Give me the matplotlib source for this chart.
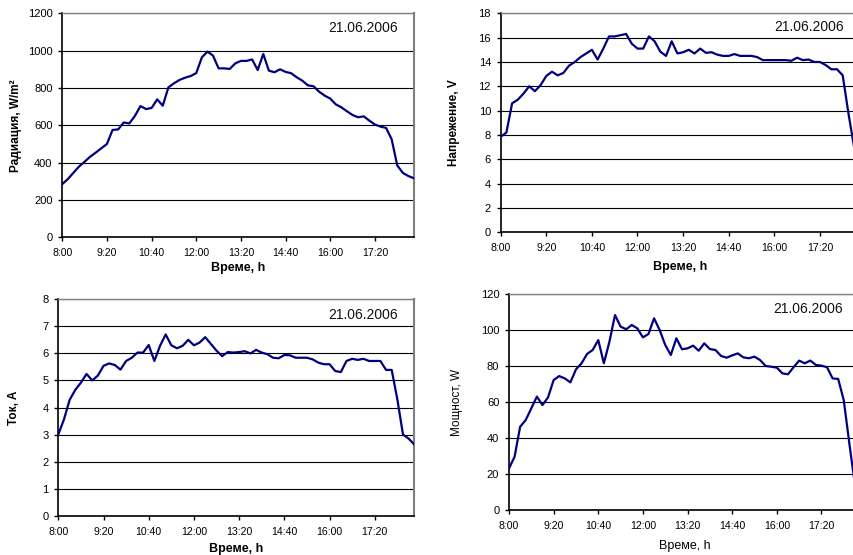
import matplotlib
matplotlib.use('Agg')
import matplotlib.pyplot as plt
import numpy as np

plt.rcParams['font.family'] = ['Liberation Sans', 'DejaVu Sans']

LINE_COLOR = '#000080'
BORDER_GRAY = '#808080'
W, H = 854, 555

# tick labels of the category axis (every 8th reading, 10 min step)
tick_labels = ['8:00', '9:20', '10:40', '12:00', '13:20', '14:40', '16:00', '17:20']
date_label = '21.06.2006'

radiation = [285, 312, 346, 379, 405, 432, 454, 477, 500, 575,
             578, 615, 610, 650, 703, 687, 693, 739, 705, 803,
             825, 843, 855, 864, 880, 964, 995, 973, 905, 905,
             902, 932, 945, 945, 953, 896, 982, 893, 884, 900,
             886, 879, 857, 839, 814, 809, 780, 759, 743, 712,
             696, 675, 655, 643, 648, 625, 604, 593, 586, 525,
             385, 345, 328, 316]

voltage = [7.85, 8.2, 10.6, 10.9, 11.4, 12.0, 11.6, 12.1, 12.85, 13.2,
           12.9, 13.1, 13.7, 14.0, 14.4, 14.7, 15.0, 14.2, 15.1, 16.1,
           16.1, 16.2, 16.3, 15.5, 15.1, 15.1, 16.1, 15.7, 14.85, 14.5,
           15.7, 14.7, 14.8, 15.0, 14.7, 15.1, 14.75, 14.8, 14.6, 14.5,
           14.5, 14.65, 14.5, 14.5, 14.5, 14.4, 14.15, 14.15, 14.15, 14.15,
           14.15, 14.1, 14.35, 14.15, 14.2, 14.0, 14.0, 13.75, 13.4, 13.4,
           12.9, 9.8, 7.0, 6.4]

current = [3.0, 3.56, 4.28, 4.65, 4.92, 5.24, 5.0, 5.18, 5.54, 5.63,
           5.57, 5.4, 5.72, 5.84, 6.03, 6.03, 6.31, 5.72, 6.28, 6.7,
           6.3, 6.19, 6.28, 6.5, 6.3, 6.4, 6.6, 6.35, 6.1, 5.9,
           6.05, 6.03, 6.05, 6.08, 6.0, 6.13, 6.03, 5.97, 5.84, 5.82,
           5.94, 5.93, 5.84, 5.84, 5.84, 5.78, 5.66, 5.6, 5.6, 5.35,
           5.31, 5.72, 5.8, 5.76, 5.8, 5.72, 5.72, 5.72, 5.39, 5.39,
           4.3, 3.0, 2.85, 2.63]

power = [23.1, 29.6, 46.3, 50.0, 56.5, 63.0, 58.3, 62.6, 72.2, 74.4,
         73.1, 70.9, 78.1, 81.5, 86.7, 88.9, 94.4, 81.5, 93.5, 108.3,
         101.9, 100.4, 102.8, 100.9, 95.9, 97.8, 106.5, 100.0, 91.7, 86.1,
         95.4, 89.3, 89.8, 91.3, 88.5, 92.6, 89.4, 88.9, 85.6, 84.6,
         85.9, 87.0, 84.8, 84.3, 85.2, 83.3, 80.0, 79.6, 79.1, 75.9,
         75.4, 79.3, 83.0, 81.5, 83.0, 80.6, 80.2, 79.3, 73.1, 72.8,
         61.0, 37.0, 14.0, 12.0]


def px_axes(fig, left, right, top, bottom):
    """axes placed by pixel edges of the 854x555 canvas"""
    return fig.add_axes([left / W, 1 - bottom / H, (right - left) / W, (bottom - top) / H])


def draw_panel(ax, values, ymax, ystep, ylabel, bold, ylabel_x, xlabel_y, date_xy):
    x = np.arange(len(values))
    ax.plot(x, values, color=LINE_COLOR, lw=1.6, solid_joinstyle='round', zorder=3)

    ax.set_xlim(0, len(values) - 1)
    ax.set_ylim(0, ymax)
    ax.set_yticks(np.arange(0, ymax + ystep / 2, ystep))
    ax.set_xticks(np.arange(len(tick_labels)) * 8)
    ax.set_xticklabels(tick_labels)

    ax.yaxis.grid(True, color='black', lw=0.8)
    ax.xaxis.grid(False)
    ax.set_axisbelow(True)

    ax.spines['left'].set_color('black')
    ax.spines['left'].set_linewidth(1.2)
    ax.spines['bottom'].set_color('black')
    ax.spines['bottom'].set_linewidth(1.2)
    ax.spines['top'].set_color(BORDER_GRAY)
    ax.spines['top'].set_linewidth(1.0)
    ax.spines['right'].set_color(BORDER_GRAY)
    ax.spines['right'].set_linewidth(1.5)
    ax.spines['top'].set_zorder(2.6)

    ax.tick_params(axis='y', direction='out', length=3, width=1, labelsize=8, pad=4, colors='black')
    ax.tick_params(axis='x', direction='out', length=3, width=1, labelsize=7.6, pad=5, colors='black')

    weight = 'bold' if bold else 'normal'
    ax.set_ylabel(ylabel, fontsize=8.5, fontweight=weight)
    ax.yaxis.set_label_coords(ylabel_x, 0.5)
    ax.set_xlabel('Време, h', fontsize=9, fontweight=weight)
    ax.xaxis.set_label_coords(0.5, xlabel_y)

    ax.text(date_xy[0], date_xy[1], date_label, transform=ax.transAxes,
            ha='center', va='center', fontsize=10, color='#111111')


fig = plt.figure(figsize=(W / 100, H / 100), dpi=100)
fig.patch.set_facecolor('white')

ax_rad = px_axes(fig, 62.3, 414.0, 13.3, 237.3)
draw_panel(ax_rad, radiation, 1200, 200, 'Радиация, W/m²', True, -0.116, -0.110, (0.856, 0.934))

ax_volt = px_axes(fig, 500.7, 859.8, 13.3, 232.3)
draw_panel(ax_volt, voltage, 18, 2, 'Напрежение, V', True, -0.113, -0.131, (0.859, 0.937))

ax_cur = px_axes(fig, 58.3, 414.3, 299.3, 515.7)
draw_panel(ax_cur, current, 8, 1, 'Ток, A', True, -0.108, -0.124, (0.856, 0.927))

ax_pow = px_axes(fig, 509.0, 860.5, 294.0, 510.0)
draw_panel(ax_pow, power, 120, 20, 'Мощност, W', False, -0.131, -0.140, (0.851, 0.930))

fig.savefig('out.png', dpi=100)
plt.close(fig)
